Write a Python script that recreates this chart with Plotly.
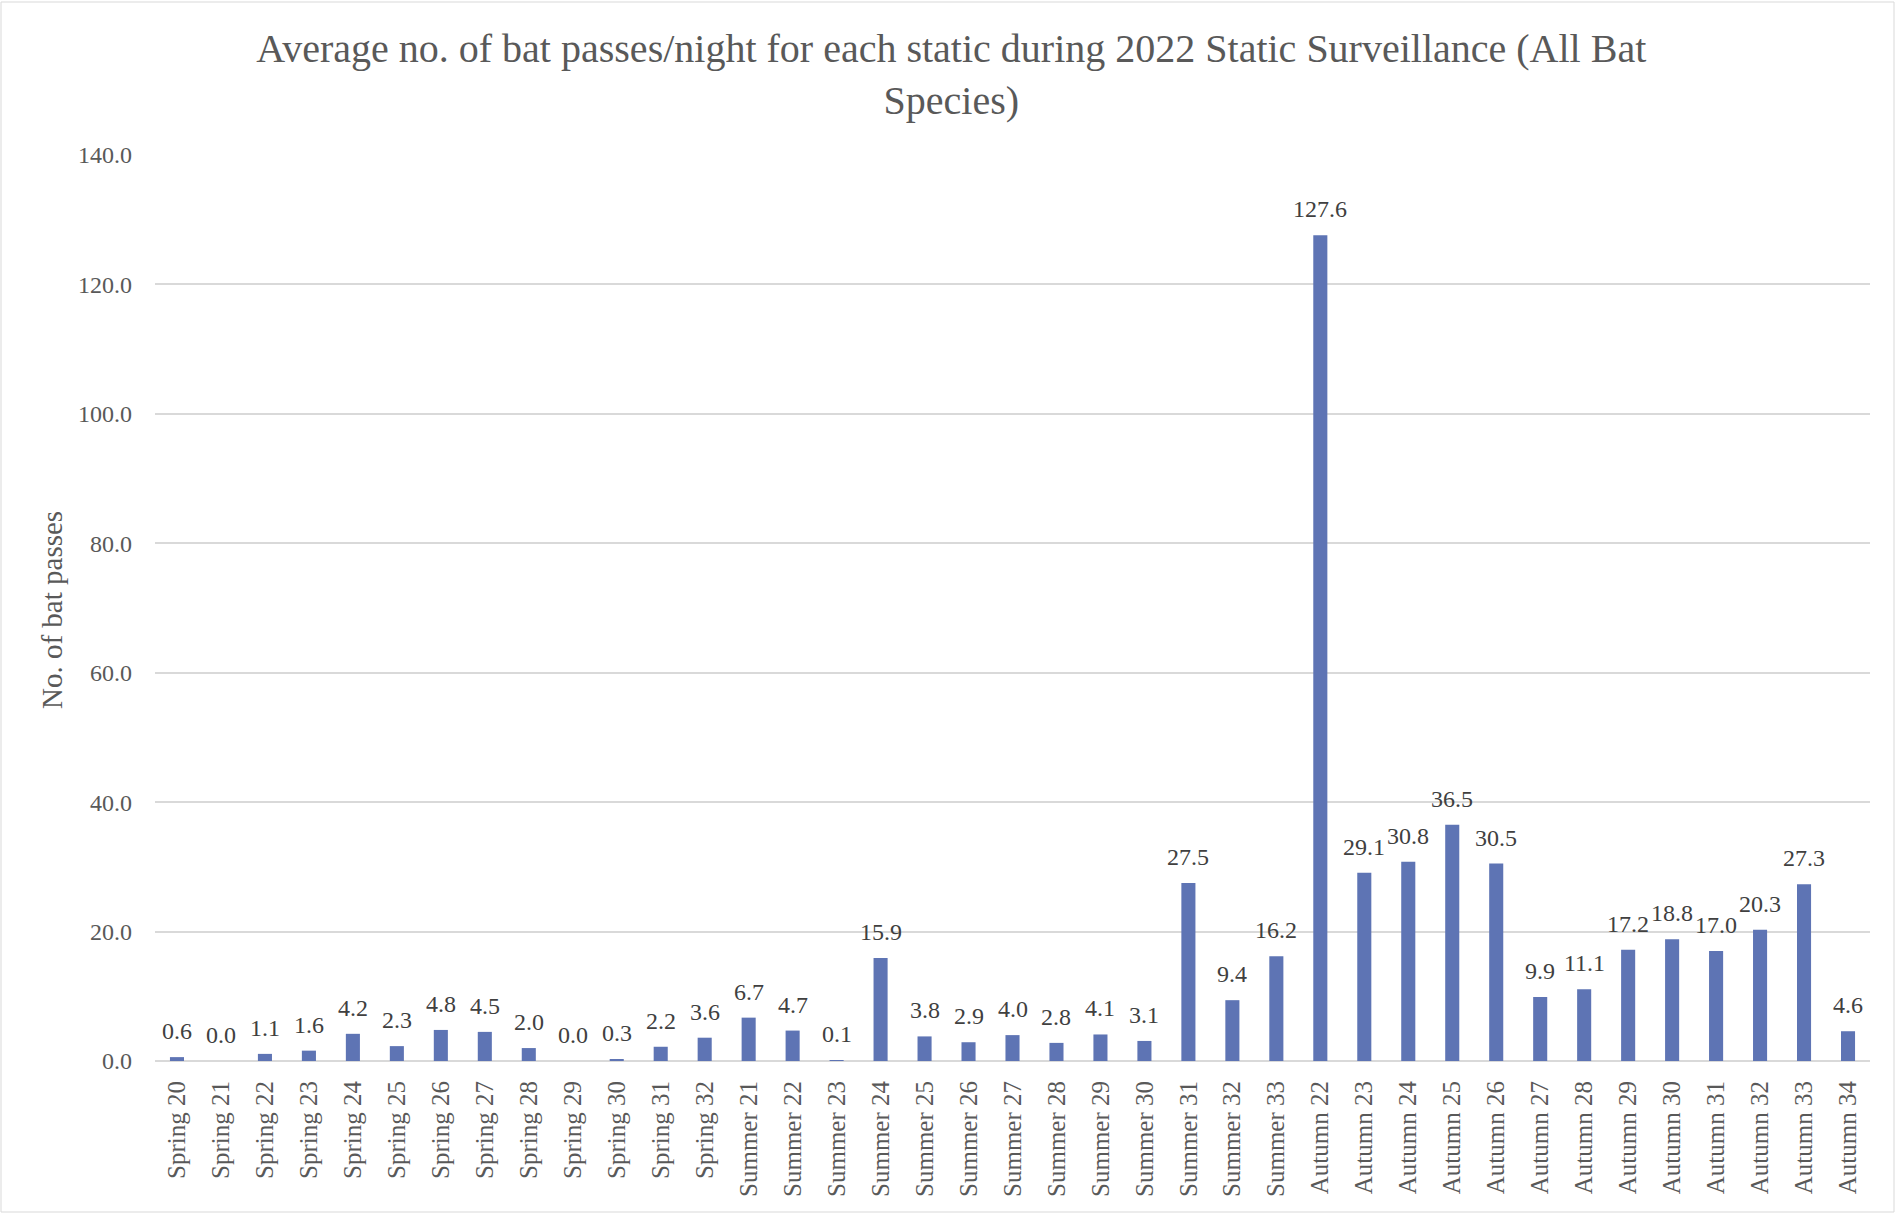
import plotly.graph_objects as go

categories = [
    "Spring 20", "Spring 21", "Spring 22", "Spring 23", "Spring 24", "Spring 25", "Spring 26",
    "Spring 27", "Spring 28", "Spring 29", "Spring 30", "Spring 31", "Spring 32",
    "Summer 21", "Summer 22", "Summer 23", "Summer 24", "Summer 25", "Summer 26", "Summer 27",
    "Summer 28", "Summer 29", "Summer 30", "Summer 31", "Summer 32", "Summer 33",
    "Autumn 22", "Autumn 23", "Autumn 24", "Autumn 25", "Autumn 26", "Autumn 27", "Autumn 28",
    "Autumn 29", "Autumn 30", "Autumn 31", "Autumn 32", "Autumn 33", "Autumn 34",
]
values = [
    0.6, 0.0, 1.1, 1.6, 4.2, 2.3, 4.8, 4.5, 2.0, 0.0, 0.3, 2.2, 3.6,
    6.7, 4.7, 0.1, 15.9, 3.8, 2.9, 4.0, 2.8, 4.1, 3.1, 27.5, 9.4, 16.2,
    127.6, 29.1, 30.8, 36.5, 30.5, 9.9, 11.1, 17.2, 18.8, 17.0, 20.3, 27.3, 4.6,
]
y_ticks = [0, 20, 40, 60, 80, 100, 120, 140]

FONT = "Liberation Serif"
TXT = "#595959"
W, H = 1895, 1213
ML, MR, MT, MB = 155, 25, 155, 152

fig = go.Figure(go.Bar(
    x=categories, y=values,
    marker=dict(color="#5E74B4", line=dict(width=0)),
    cliponaxis=False,
))

# data labels above each bar
for c, v in zip(categories, values):
    fig.add_annotation(
        x=c, y=v, xref="x", yref="y", text=f"{v:.1f}", showarrow=False,
        xanchor="center", yanchor="bottom", yshift=11,
        font=dict(family=FONT, size=24, color="#404040"),
    )

pw = W - ML - MR
ph = H - MT - MB
fig.add_shape(type="rect", xref="paper", yref="paper",
              x0=-(ML - 1) / pw, x1=1 + (MR - 1) / pw,
              y0=-(MB - 1) / ph, y1=1 + (MT - 2) / ph,
              line=dict(color="#D9D9D9", width=1), layer="below")

fig.add_annotation(
    text="No. of bat passes", textangle=-90, showarrow=False,
    xref="paper", yref="paper", x=(52 - ML) / pw, y=(H - MB - 610) / ph,
    xanchor="center", yanchor="middle",
    font=dict(family=FONT, size=29, color=TXT),
)

fig.update_layout(
    width=W, height=H,
    margin=dict(l=ML, r=MR, t=MT, b=MB),
    paper_bgcolor="white", plot_bgcolor="white",
    bargap=0.68,
    showlegend=False,
    title=dict(
        text="Average no. of bat passes/night for each static during 2022 Static Surveillance (All Bat<br>Species)",
        x=0.502, xanchor="center", y=1 - 62 / H, yanchor="middle",
        font=dict(family=FONT, size=40, color=TXT),
    ),
    font=dict(family=FONT, color=TXT),
    xaxis=dict(
        tickangle=-90, tickfont=dict(family=FONT, size=25, color=TXT),
        showgrid=False, showline=False, ticks="", ticklabelstandoff=14,
    ),
    yaxis=dict(
        range=[0, 140], tickvals=y_ticks, tickformat=".1f",
        tickfont=dict(family=FONT, size=24, color=TXT),
        showgrid=True, gridcolor="#D9D9D9", gridwidth=2,
        zeroline=True, zerolinecolor="#D9D9D9", zerolinewidth=2,
        showline=False, ticks="", ticklabelstandoff=22,
    ),
)

fig.write_html("out.html")
